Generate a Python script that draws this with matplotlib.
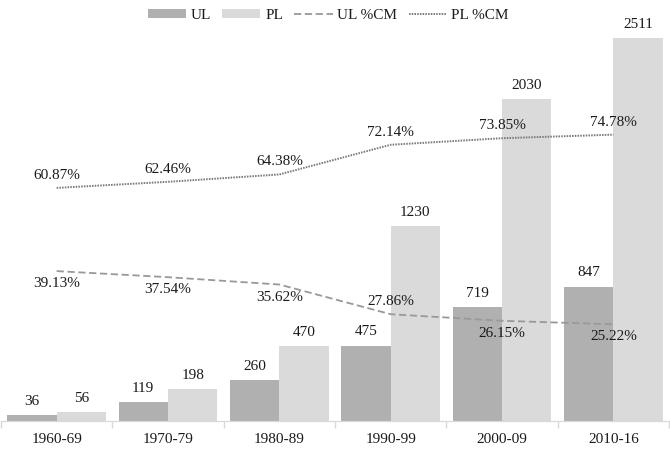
import matplotlib.pyplot as plt
import numpy as np

plt.rcParams['font.family'] = ['Liberation Serif', 'DejaVu Serif']

decades = ["1960-69", "1970-79", "1980-89", "1990-99", "2000-09", "2010-16"]
ul = [36, 119, 260, 475, 719, 847]
pl = [56, 198, 470, 1230, 2030, 2511]
ul_cm = [39.13, 37.54, 35.62, 27.86, 26.15, 25.22]
pl_cm = [60.87, 62.46, 64.38, 72.14, 73.85, 74.78]

# label above (+1) or below (-1) each %CM point
ul_side = [-1, -1, -1, 1, -1, -1]
pl_side = [1, 1, 1, 1, 1, 1]

ul_col = "#b0b0b0"
pl_col = "#dadada"
txt = "#1a1a1a"

fig = plt.figure(figsize=(6.7, 4.54), dpi=100)
ax = fig.add_axes([0.0015, 0.073, 0.997, 0.843])
ax2 = ax.twinx()

x = np.arange(len(decades))
w = 0.444
ymax = 2415
b1 = ax.bar(x - w / 2, ul, w, color=ul_col, label="UL", zorder=2)
b2 = ax.bar(x + w / 2, pl, w, color=pl_col, label="PL", zorder=2)

for xi, v in zip(x - w / 2, ul):
    ax.text(xi, min(v, ymax) + 45, str(v), ha="center", va="bottom", fontsize=11, color=txt)
for xi, v in zip(x + w / 2, pl):
    ax.text(xi, min(v, ymax) + 45, str(v), ha="center", va="bottom", fontsize=11, color=txt)

l1, = ax2.plot(x, ul_cm, color="#999999", lw=1.3, dashes=(4, 2), label="UL %CM")
l2, = ax2.plot(x, pl_cm, color="#7a7a7a", lw=1.4, dashes=(0.8, 0.6), label="PL %CM")

for xi, v, s in zip(x, ul_cm, ul_side):
    ax2.text(xi, v + s * 1.6, f"{v:.2f}%", ha="center", va="bottom" if s > 0 else "top",
             fontsize=11, color=txt)
for xi, v, s in zip(x, pl_cm, pl_side):
    ax2.text(xi, v + s * 1.6, f"{v:.2f}%", ha="center", va="bottom" if s > 0 else "top",
             fontsize=11, color=txt)

ax.set_xlim(-0.5, len(decades) - 0.5)
ax.set_ylim(0, ymax)
ax2.set_ylim(0, 100)

ax.set_xticks(x)
ax.set_xticklabels(decades, fontsize=11, color=txt)
ax.tick_params(axis="x", length=0, pad=9)
ax.set_xticks(np.arange(-0.5, len(decades)), minor=True)
ax.tick_params(axis="x", which="minor", length=5, color="#d9d9d9", width=1)
ax.set_yticks([])
ax2.set_yticks([])
for a in (ax, ax2):
    for sp in ["top", "left", "right"]:
        a.spines[sp].set_visible(False)
    a.spines["bottom"].set_color("#d9d9d9")

fig.legend(handles=[b1, b2, l1, l2], loc="upper center", bbox_to_anchor=(0.49, 1.01),
           ncol=4, frameon=False, fontsize=11, handlelength=2.5, handleheight=0.5,
           columnspacing=0.75, handletextpad=0.3, labelcolor=txt)

fig.savefig("out.png", dpi=100)
